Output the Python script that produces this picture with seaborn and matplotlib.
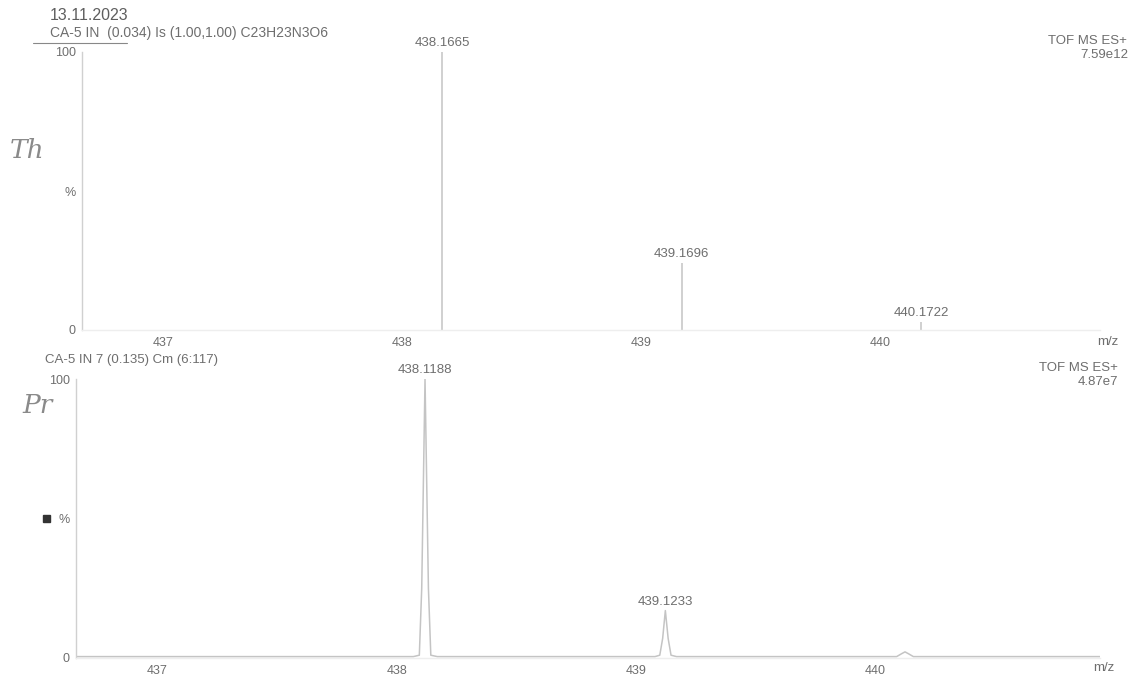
import matplotlib
matplotlib.use("Agg")
import matplotlib.pyplot as plt
import seaborn as sns
from matplotlib.lines import Line2D
from matplotlib.patches import Rectangle

# Theoretical isotope pattern (centroid sticks)
theo_mz = [438.1665, 439.1696, 440.1722]
theo_int = [100.0, 24.0, 3.0]
theo_labels = ["438.1665", "439.1696", "440.1722"]

# Measured profile spectrum
meas_mz = [436.66, 438.07, 438.095, 438.105, 438.1188, 438.133, 438.143, 438.17,
           439.08, 439.10, 439.112, 439.1233, 439.135, 439.147, 439.17,
           440.09, 440.11, 440.125, 440.14, 440.16, 440.94]
meas_int = [0.5, 0.5, 1.0, 25.0, 100.0, 25.0, 1.0, 0.5,
            0.5, 1.0, 7.0, 17.0, 7.0, 1.0, 0.5,
            0.5, 1.5, 2.2, 1.5, 0.5, 0.5]
meas_peaks_mz = [438.1188, 439.1233]
meas_peaks_int = [100.0, 17.0]
meas_labels = ["438.1188", "439.1233"]

x_ticks = [437, 438, 439, 440]
y_ticks = [0, 50, 100]
y_ticklabels = ["0", "%", "100"]

sns.set_theme(style="white")
plt.rcParams["font.family"] = ["Liberation Sans", "DejaVu Sans"]

TXT = "#6e6e6e"
LINE = "#c4c4c4"
W, H = 1132, 687
FS = 9.5

fig = plt.figure(figsize=(W / 100, H / 100), dpi=100)
fig.patch.set_facecolor("white")


def px_axes(x0, y_top, x1, y_bot):
    return fig.add_axes([x0 / W, 1 - y_bot / H, (x1 - x0) / W, (y_bot - y_top) / H])


def style_axes(ax, xlim):
    ax.set_xlim(*xlim)
    ax.set_ylim(0, 100)
    ax.set_xticks(x_ticks)
    ax.set_xticklabels([str(t) for t in x_ticks])
    ax.set_yticks(y_ticks)
    ax.set_yticklabels(y_ticklabels)
    ax.tick_params(axis="both", length=0, labelsize=9, colors=TXT, pad=4.5)
    ax.tick_params(axis="x", pad=5)
    for s in ("top", "right"):
        ax.spines[s].set_visible(False)
    ax.spines["left"].set_color("#d0d0d0")
    ax.spines["left"].set_linewidth(1.0)
    ax.spines["bottom"].set_color("#eeeeee")
    ax.spines["bottom"].set_linewidth(1.0)
    ax.set_facecolor("white")
    ax.set_xlabel("")
    ax.set_ylabel("")


def label_peaks(ax, xs, ys, labels):
    for mz, it, lab in zip(xs, ys, labels):
        ax.annotate(lab, (mz, it), xytext=(0, 6.5), textcoords="offset points",
                    ha="center", va="center", fontsize=FS, color=TXT,
                    annotation_clip=False)


# ---- top panel: theoretical isotope model ----
ax1 = px_axes(82, 52, 1100, 330)
ax1.vlines(theo_mz, 0, theo_int, color=LINE, lw=1.1)
label_peaks(ax1, theo_mz, theo_int, theo_labels)
style_axes(ax1, (436.66, 440.92))

# ---- bottom panel: measured spectrum ----
ax2 = px_axes(76, 379, 1100, 658)
sns.lineplot(x=meas_mz, y=meas_int, ax=ax2, color=LINE, lw=1.1,
             estimator=None, sort=False)
label_peaks(ax2, meas_peaks_mz, meas_peaks_int, meas_labels)
style_axes(ax2, (436.66, 440.94))

# ---- header and annotations ----
def ftext(x, y, s, **kw):
    kw.setdefault("fontsize", FS)
    kw.setdefault("color", TXT)
    fig.text(x / W, 1 - y / H, s, **kw)


ftext(50, 15, "13.11.2023", fontsize=11.5, color="#5e5e5e", va="center")
ftext(50, 33, "CA-5 IN  (0.034) Is (1.00,1.00) C23H23N3O6", fontsize=10, va="center")
fig.add_artist(Line2D([33 / W, 127 / W], [1 - 43 / H, 1 - 43 / H],
                      color="#888888", lw=0.8))

ftext(1127, 41, "TOF MS ES+", ha="right", va="center")
ftext(1128, 55, "7.59e12", ha="right", va="center")
ftext(1118, 342, "m/z", ha="right", va="center")

ftext(45, 360, "CA-5 IN 7 (0.135) Cm (6:117)", va="center")
ftext(1118, 368, "TOF MS ES+", ha="right", va="center")
ftext(1118, 382, "4.87e7", ha="right", va="center")
ftext(1114, 668, "m/z", ha="right", va="center")

# handwritten panel marks
ftext(10, 151, "Th", fontsize=19, color="#8a8a8a", va="center",
      style="italic", family=["DejaVu Serif"])
ftext(22, 405, "Pr", fontsize=19, color="#8a8a8a", va="center",
      style="italic", family=["DejaVu Serif"])

fig.add_artist(Rectangle((43 / W, 1 - 522 / H), 7 / W, 7 / H,
                         color="#333333", transform=fig.transFigure))

fig.savefig("out.png", dpi=100, facecolor="white")
